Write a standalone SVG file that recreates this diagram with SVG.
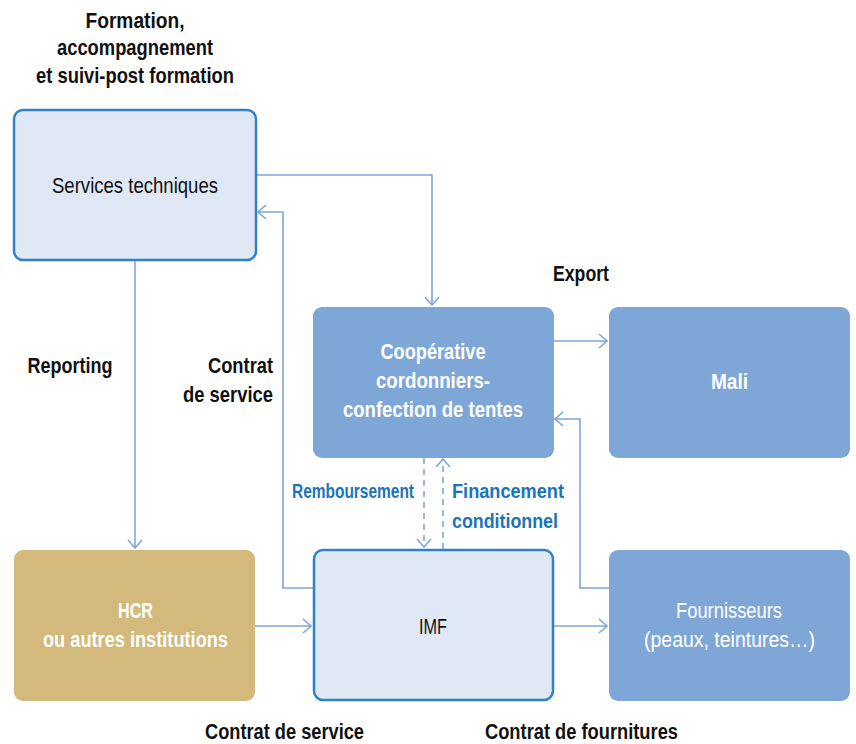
<svg xmlns="http://www.w3.org/2000/svg" width="856" height="744" viewBox="0 0 856 744">
<defs>
<style>
text{font-family:"Liberation Sans",Arial,sans-serif;font-size:22px;text-anchor:middle}
.b{font-weight:bold}
.k{fill:#111111}
.w{fill:#ffffff}
.bl{fill:#1b74bb;font-size:20px}
.light{fill:#e0e8f5;stroke:#2f82c8;stroke-width:2.5}
.mid{fill:#7ea7d8}
.gold{fill:#d3b97b}
.c{fill:none;stroke:#7ea7d8;stroke-width:1.6}
.d{stroke-dasharray:6,5}
</style>
<marker id="ah" viewBox="0 0 10 16" refX="9" refY="8" markerWidth="10" markerHeight="16" markerUnits="userSpaceOnUse" orient="auto">
<path d="M1,1 L9,8 L1,15" fill="none" stroke="#7ea7d8" stroke-width="1.6"/>
</marker>
</defs>
<rect width="856" height="744" fill="#ffffff"/>

<g id="connectors">
<path class="c" d="M256,175 H432 V305" marker-end="url(#ah)"/>
<path class="c" d="M313,588 H283 V212 H258" marker-end="url(#ah)"/>
<path class="c" d="M135,261 V548" marker-end="url(#ah)"/>
<path class="c" d="M553,341 H607" marker-end="url(#ah)"/>
<path class="c" d="M609,588 H580 V419 H555" marker-end="url(#ah)"/>
<path class="c" d="M255,626 H311" marker-end="url(#ah)"/>
<path class="c" d="M554,626 H607" marker-end="url(#ah)"/>
<path class="c d" d="M424,458 V547" marker-end="url(#ah)"/>
<path class="c d" d="M443,549 V459" marker-end="url(#ah)"/>
</g>

<g id="labels">
<text class="b k" x="135" y="28" textLength="99" lengthAdjust="spacingAndGlyphs">Formation,</text>
<text class="b k" x="135" y="55" textLength="156" lengthAdjust="spacingAndGlyphs">accompagnement</text>
<text class="b k" x="135" y="83" textLength="198" lengthAdjust="spacingAndGlyphs">et suivi-post formation</text>
<text class="b k" x="581" y="281" textLength="56" lengthAdjust="spacingAndGlyphs">Export</text>
<text class="b k" x="70" y="373" textLength="85" lengthAdjust="spacingAndGlyphs">Reporting</text>
<text class="b k" x="240.5" y="373" textLength="65" lengthAdjust="spacingAndGlyphs">Contrat</text>
<text class="b k" x="228" y="402" textLength="90" lengthAdjust="spacingAndGlyphs">de service</text>
<text class="b bl" x="353" y="498" textLength="122" lengthAdjust="spacingAndGlyphs">Remboursement</text>
<text class="b bl" x="508" y="498" textLength="112" lengthAdjust="spacingAndGlyphs">Financement</text>
<text class="b bl" x="505" y="528" textLength="106" lengthAdjust="spacingAndGlyphs">conditionnel</text>
<text class="b k" x="284.5" y="739" textLength="159" lengthAdjust="spacingAndGlyphs">Contrat de service</text>
<text class="b k" x="581.5" y="739" textLength="193" lengthAdjust="spacingAndGlyphs">Contrat de fournitures</text>
</g>

<g id="services">
<rect class="light" x="14" y="110" width="242" height="150" rx="9"/>
<text class="k" x="135" y="193" textLength="166" lengthAdjust="spacingAndGlyphs">Services techniques</text>
</g>

<g id="cooperative">
<rect class="mid" x="313" y="307" width="241" height="151" rx="9"/>
<text class="b w" x="433" y="359" textLength="105" lengthAdjust="spacingAndGlyphs">Coopérative</text>
<text class="b w" x="433" y="388" textLength="114" lengthAdjust="spacingAndGlyphs">cordonniers-</text>
<text class="b w" x="433" y="417" textLength="180" lengthAdjust="spacingAndGlyphs">confection de tentes</text>
</g>

<g id="mali">
<rect class="mid" x="609" y="307" width="241" height="151" rx="9"/>
<text class="b w" x="729.5" y="389" textLength="37" lengthAdjust="spacingAndGlyphs">Mali</text>
</g>

<g id="hcr">
<rect class="gold" x="14" y="550" width="241" height="151" rx="9"/>
<text class="b w" x="135.5" y="618" textLength="35" lengthAdjust="spacingAndGlyphs">HCR</text>
<text class="b w" x="135.5" y="647" textLength="185" lengthAdjust="spacingAndGlyphs">ou autres institutions</text>
</g>

<g id="imf">
<rect class="light" x="314" y="550" width="239" height="150" rx="9"/>
<text class="k" x="433" y="634" textLength="28" lengthAdjust="spacingAndGlyphs">IMF</text>
</g>

<g id="fournisseurs">
<rect class="mid" x="609" y="550" width="241" height="151" rx="9"/>
<text class="w" x="729" y="618" textLength="106" lengthAdjust="spacingAndGlyphs">Fournisseurs</text>
<text class="w" x="729.5" y="647" textLength="171" lengthAdjust="spacingAndGlyphs">(peaux, teintures…)</text>
</g>
</svg>
